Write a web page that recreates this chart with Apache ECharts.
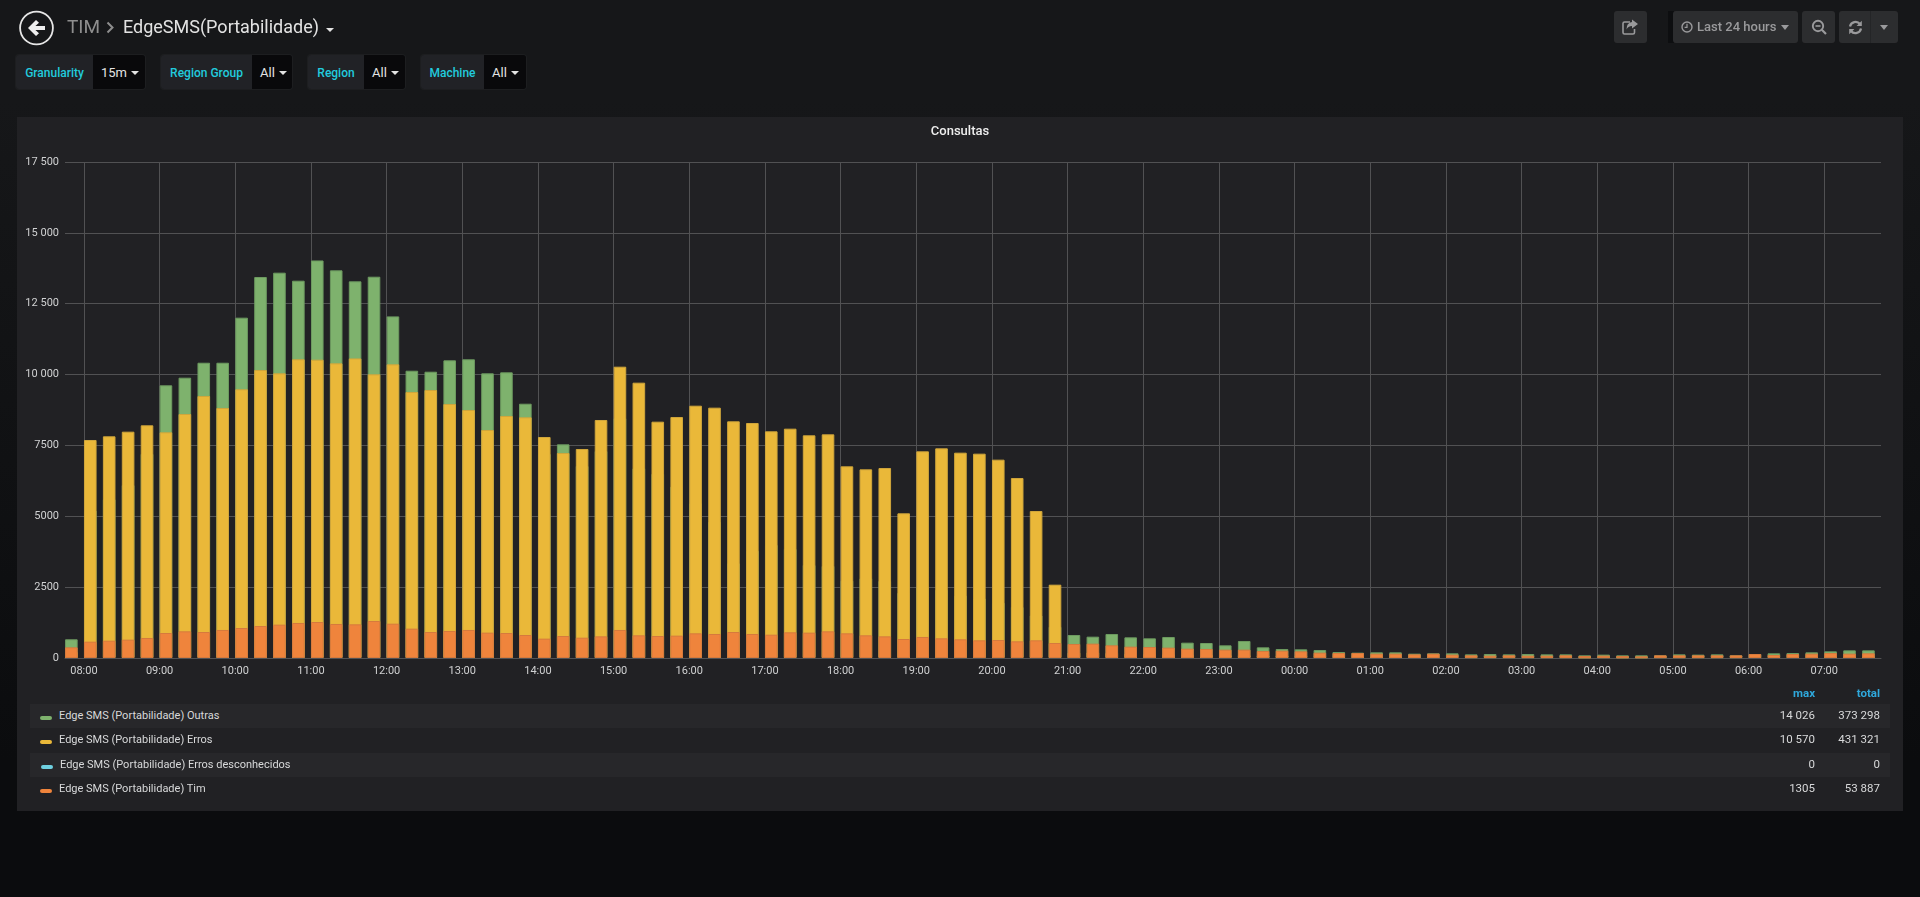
<!DOCTYPE html>
<html lang="pt">
<head>
<meta charset="utf-8">
<title>EdgeSMS(Portabilidade)</title>
<script src="https://cdn.jsdelivr.net/npm/echarts@6/dist/echarts.min.js"></script>
<style>
html,body{margin:0;padding:0;width:1920px;height:897px;overflow:hidden;font-family:Roboto,sans-serif;background:linear-gradient(#161719 0,#161719 100px,#0b0c0e 760px,#0b0c0e 897px);}
.abs{position:absolute;}
#panel{left:17px;top:117px;width:1886px;height:694px;background:#212124;}
#chart{left:0;top:0;width:1920px;height:897px;}
#back{left:18px;top:10px;}
.crumb{top:15px;font-size:18px;line-height:24px;white-space:nowrap;}
.var{top:55px;height:34px;display:flex;border-radius:3px;overflow:hidden;box-shadow:0 0 0 1px #1d1e20;font-size:12px;line-height:36px;}
.var .k{background:#212226;color:#22cbdd;font-weight:500;text-align:center;}
.var .v{background:#09090b;color:#e3e3e3;font-size:13px;padding-left:8px;box-sizing:border-box;}
.caret{display:inline-block;width:0;height:0;border-left:4px solid transparent;border-right:4px solid transparent;border-top:4px solid #e3e3e3;margin-left:4px;vertical-align:2px;}
.btn{top:11px;height:32px;background:#2c2d2f;border-radius:3px;color:#9a9a9c;font-size:13px;font-weight:500;line-height:32px;display:flex;align-items:center;box-sizing:border-box;}
.row{left:30px;width:1860px;height:24px;line-height:24px;font-size:11px;color:#d8d9da;}
.row.odd{background:#27272a;}
.sw{position:absolute;left:10px;top:12px;width:12px;height:4px;border-radius:2px;}
.nm{position:absolute;left:29px;top:0;white-space:nowrap;}
.num{position:absolute;top:-1px;text-align:right;width:80px;font-size:11.5px;}
.hd{top:681px;font-size:11.5px;font-weight:700;color:#2fa8dc;text-align:right;width:80px;line-height:24px;}
</style>
</head>
<body>
<div id="panel" class="abs"></div>
<div id="chart" class="abs"></div>

<svg id="back" class="abs" width="38" height="36" viewBox="0 0 38 36">
  <circle cx="18.5" cy="18" r="16.4" fill="none" stroke="#e6e6e6" stroke-width="1.8"/>
  <path d="M10 18 L18 10 L21 12.8 L17.4 16 L27 16 L27 20 L17.4 20 L21 23.2 L18 26 Z" fill="#eeeeee"/>
</svg>
<div class="abs crumb" style="left:67px;color:#8e8e8e;font-size:19px;">TIM</div>
<svg class="abs" style="left:106px;top:21px" width="9" height="13" viewBox="0 0 9 13"><path d="M1.5 1.5 L6.5 6.5 L1.5 11.5" fill="none" stroke="#8e8e8e" stroke-width="2"/></svg>
<div class="abs crumb" style="left:123px;color:#e3e3e3;">EdgeSMS(Portabilidade)</div>
<span class="abs caret" style="left:326px;top:28px;margin:0;"></span>

<div class="abs var" style="left:16px;width:129px;"><div class="k" style="width:77px">Granularity</div><div class="v" style="width:52px">15m<span class="caret"></span></div></div>
<div class="abs var" style="left:161px;width:131px;"><div class="k" style="width:91px">Region Group</div><div class="v" style="width:40px">All<span class="caret"></span></div></div>
<div class="abs var" style="left:308px;width:97px;"><div class="k" style="width:56px">Region</div><div class="v" style="width:41px">All<span class="caret"></span></div></div>
<div class="abs var" style="left:421px;width:105px;"><div class="k" style="width:63px">Machine</div><div class="v" style="width:42px">All<span class="caret"></span></div></div>

<div class="abs btn" style="left:1614px;width:33px;justify-content:center;">
  <svg width="17" height="16" viewBox="0 0 17 16"><path d="M8 3 H2.5 Q1 3 1 4.5 V13.5 Q1 15 2.5 15 H11 Q12.5 15 12.5 13.5 V10" fill="none" stroke="#9a9a9c" stroke-width="1.6"/><path d="M10 0.5 L16 5 L10 9.5 V7 Q6 7 4.5 10.5 Q4.5 3.5 10 3 Z" fill="#9a9a9c"/></svg>
</div>
<div class="abs" style="left:1668px;top:11px;width:6px;height:32px;background:#0d0e10;"></div>
<div class="abs btn" style="left:1673px;width:125px;padding-left:8px;">
  <svg width="12" height="12" viewBox="0 0 12 12" style="margin-right:4px"><circle cx="6" cy="6" r="5" fill="none" stroke="#9a9a9c" stroke-width="1.4"/><path d="M6 2.8 V6.4 H3.6" fill="none" stroke="#9a9a9c" stroke-width="1.2"/></svg>
  <span>Last 24 hours</span><span class="caret" style="border-top-color:#9a9a9c;border-left-width:4.5px;border-right-width:4.5px;border-top-width:5px;margin-left:5px;"></span>
</div>
<div class="abs btn" style="left:1802px;width:33px;justify-content:center;">
  <svg width="16" height="16" viewBox="0 0 16 16"><circle cx="7" cy="7" r="5.2" fill="none" stroke="#9a9a9c" stroke-width="1.9"/><path d="M4.5 7 H9.5" stroke="#9a9a9c" stroke-width="1.6"/><path d="M10.8 10.8 L15 15" stroke="#9a9a9c" stroke-width="2.2"/></svg>
</div>
<div class="abs btn" style="left:1839px;width:59px;">
  <svg style="margin-left:9px" width="15" height="15" viewBox="0 0 15 15"><path d="M2 6.5 A5.7 5.7 0 0 1 12 4" fill="none" stroke="#9a9a9c" stroke-width="2.2"/><path d="M13.8 0.8 V6 H8.6 Z" fill="#9a9a9c"/><path d="M13 8.5 A5.7 5.7 0 0 1 3 11" fill="none" stroke="#9a9a9c" stroke-width="2.2"/><path d="M1.2 14.2 V9 H6.4 Z" fill="#9a9a9c"/></svg>
  <span class="caret" style="border-top-color:#9a9a9c;border-left-width:4.5px;border-right-width:4.5px;border-top-width:5px;margin-left:17px;"></span>
</div>
<div class="abs" style="left:1870px;top:11px;width:1px;height:32px;background:#242527;"></div>

<div class="abs hd" style="left:1735px;">max</div>
<div class="abs hd" style="left:1800px;">total</div>
<div id="legend"></div>

<script>
// values (one 15 minute bucket each, first bucket 07:45)
const outras = [660,5200,5600,6100,7200,9620,9890,10418,10418,12007,13442,13595,13312,14026,13677,13289,13453,12053,10136,10101,10502,10538,10043,10078,8972,7200,7538,6774,7300,8456,6691,6500,6045,5456,4800,3340,3781,3990,3850,3280,3246,2728,2811,2720,2300,2500,2400,2200,2100,1950,1800,1500,1100,811,753,847,729,694,741,541,529,447,600,376,318,306,282,212,188,200,200,153,165,165,129,141,129,141,129,129,94,118,94,94,94,129,118,129,94,141,165,176,200,235,270,270];
const erros = [210,7691,7821,7985,8209,7962,8608,9243,8820,9479,10160,10043,10538,10525,10396,10570,10008,10360,9384,9455,8961,8749,8044,8538,8491,7797,7232,7374,8397,10278,9714,8338,8502,8902,8832,8350,8291,7997,8091,7856,7891,6762,6656,6703,5104,7291,7397,7244,7209,6998,6350,5186,2587,190,200,180,150,140,130,120,110,100,100,90,90,80,70,60,60,50,50,40,40,40,30,30,30,30,30,30,20,30,20,20,30,30,30,30,30,50,40,50,60,60,60,60];
const errosDesconhecidos = [0,0,0,0,0,0,0,0,0,0,0,0,0,0,0,0,0,0,0,0,0,0,0,0,0,0,0,0,0,0,0,0,0,0,0,0,0,0,0,0,0,0,0,0,0,0,0,0,0,0,0,0,0,0,0,0,0,0,0,0,0,0,0,0,0,0,0,0,0,0,0,0,0,0,0,0,0,0,0,0,0,0,0,0,0,0,0,0,0,0,0,0,0,0,0,0];
const tim = [376,576,611,647,706,882,941,917,988,1058,1129,1176,1235,1270,1200,1188,1305,1211,1035,917,953,988,894,882,811,682,776,717,764,988,800,776,788,870,847,917,847,823,906,894,941,870,800,764,670,741,694,659,623,635,588,623,529,494,506,447,400,388,365,329,318,294,294,247,259,235,188,176,176,153,153,129,153,118,94,82,94,82,82,94,71,82,71,59,94,94,94,94,94,141,106,141,153,176,153,165];

const seriesNames = ['Edge SMS (Portabilidade) Outras','Edge SMS (Portabilidade) Erros','Edge SMS (Portabilidade) Erros desconhecidos','Edge SMS (Portabilidade) Tim'];
const seriesColors = ['#7EB26D','#EAB839','#6ED0E0','#EF843C'];
const seriesEdges = ['#6d9a60','#d0a63b','#6ED0E0','#d67a3d'];
const legendMax = ['14 026','10 570','0','1305'];
const legendTotal = ['373 298','431 321','0','53 887'];
const yTickValues = [0,2500,5000,7500,10000,12500,15000,17500];
const yTickLabels = ['0','2500','5000','7500','10 000','12 500','15 000','17 500'];

const QUARTER = 15*60*1000, HOUR = 3600*1000;
const startTime = new Date(2019,5,1,7,45,0).getTime();
const endTime = startTime + outras.length*QUARTER;
const times = outras.map((_,i)=>startTime+i*QUARTER);

const chart = echarts.init(document.getElementById('chart'));
const allValues = [outras,erros,errosDesconhecidos,tim];
const gridCol = '#515153', labelCol = '#d0d1d2';
const Y = {min:0,max:17500,interval:2500};
chart.setOption({
  animation:false,
  backgroundColor:'transparent',
  textStyle:{fontFamily:'Roboto'},
  title:{text:'Consultas',left:'center',top:120,textStyle:{color:'#eeeeee',fontSize:13,fontWeight:500,fontFamily:'Roboto'}},
  // grid 0 holds the visible hour axis; grid 1 holds the bars, which sit left-aligned in their 15 minute slot
  grid:[{left:65,top:162,width:1816,height:496},{left:61.9,top:162,width:1816,height:496}],
  xAxis:[
    {gridIndex:0,type:'time',min:startTime,max:endTime,minInterval:HOUR,maxInterval:HOUR,
     axisLine:{show:true,lineStyle:{color:gridCol,width:1}},axisTick:{show:false},
     splitLine:{show:true,showMinLine:false,showMaxLine:false,lineStyle:{color:gridCol,width:1}},
     axisLabel:{formatter:'{HH}:{mm}',color:labelCol,fontSize:11,margin:8,showMinLabel:false,showMaxLabel:false,hideOverlap:false}},
    {gridIndex:1,type:'category',show:false,data:times,boundaryGap:true}
  ],
  yAxis:[
    {gridIndex:0,type:'value',...Y,
     axisLine:{show:false},axisTick:{show:false},
     splitLine:{show:true,lineStyle:{color:gridCol,width:1}},
     axisLabel:{color:labelCol,fontSize:11,margin:6,formatter:v=>yTickLabels[yTickValues.indexOf(v)]}},
    {gridIndex:1,type:'value',show:false,...Y}
  ],
  series:seriesNames.map((name,k)=>({
    name,type:'bar',xAxisIndex:1,yAxisIndex:1,barWidth:12.6,barGap:'-100%',z:2+k,
    itemStyle:{color:seriesColors[k],borderColor:seriesEdges[k],borderWidth:k===2?0:1},
    data:allValues[k]
  }))
});

// legend table
const tops=[704,728,753,777];
document.getElementById('legend').innerHTML = seriesNames.map((n,i)=>{
  const off = i===2?1:0;
  return `<div class="abs row${i%2===0?' odd':''}" style="top:${tops[i]}px">
    <span class="sw" style="left:${10+off}px;background:${seriesColors[i]}"></span>
    <span class="nm" style="left:${29+off}px">${n}</span>
    <span class="num" style="left:${1705}px">${legendMax[i]}</span>
    <span class="num" style="left:${1770}px">${legendTotal[i]}</span>
  </div>`;
}).join('');
</script>
</body>
</html>
